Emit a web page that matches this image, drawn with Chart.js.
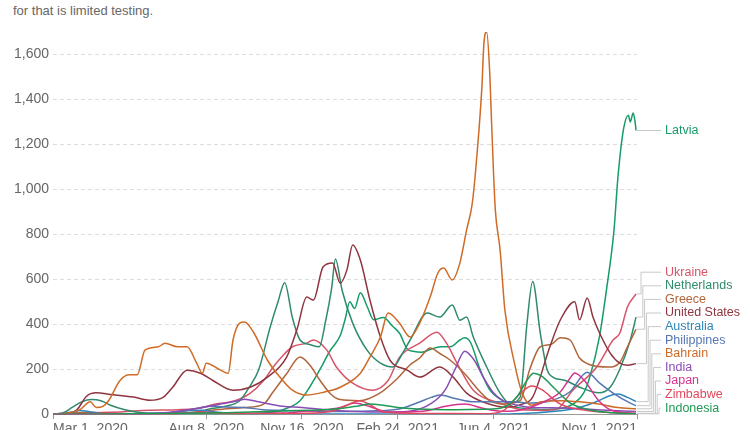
<!DOCTYPE html>
<html>
<head>
<meta charset="utf-8">
<script src="https://cdn.jsdelivr.net/npm/chart.js@4.4.1/dist/chart.umd.min.js"></script>
<style>
  body { margin: 0; background: #fff; overflow: hidden; }
  .subtitle {
    position: absolute; left: 13px; top: 3px;
    font: 13px "Liberation Sans", Arial, sans-serif; color: #666;
  }
  .chart-wrap { position: absolute; left: 0; top: 0; width: 750px; height: 446px; }
</style>
</head>
<body>
<div class="subtitle">for that is limited testing.</div>
<div class="chart-wrap"><canvas id="chart"></canvas></div>
<script>
// Days counted from Mar 1, 2020; values are confirmed cases per million (7-day avg)
const tickDays = [0, 160, 260, 360, 460, 610];
const tickLabels = ['Mar 1, 2020', 'Aug 8, 2020', 'Nov 16, 2020', 'Feb 24, 2021', 'Jun 4, 2021', 'Nov 1, 2021'];

const countries = ['Latvia', 'Ukraine', 'Netherlands', 'Greece', 'United States', 'Australia',
    'Philippines', 'Bahrain', 'India', 'Japan', 'Zimbabwe', 'Indonesia'];
const colors = ['#169c66', '#d6556b', '#2f8a6e', '#b0653a', '#8f3540', '#2f86b8',
    '#5677b0', '#cf6b26', '#8a4cb5', '#d6338f', '#e0485e', '#1f9a55'];

const latvia = [[0,0],[20,1],[60,3],[120,1],[180,1],[220,5],[240,20],[258,60],[268,120],[279,200],
    [289,280],[300,350],[305,420],[310,500],[315,470],[321,540],[328,480],[335,420],[345,430],[355,390],
    [362,360],[370,290],[376,280],[385,275],[395,290],[405,300],[415,300],[425,330],[430,340],[436,320],
    [446,200],[456,110],[470,60],[480,35],[495,25],[510,20],[530,25],[545,50],[555,100],[561,170],
    [571,350],[578,550],[586,820],[590,1050],[596,1270],[601,1330],[603,1300],[606,1340],[608,1300],[609,1262]];
const ukraine = [[0,0],[30,1],[50,8],[70,10],[100,18],[130,20],[150,25],[170,45],[190,60],[205,90],
    [220,150],[230,210],[240,260],[250,300],[265,316],[272,330],[286,285],[296,210],[313,138],[334,107],
    [350,150],[362,254],[383,316],[401,365],[411,316],[422,227],[439,107],[467,49],[490,20],[510,18],
    [525,20],[543,107],[568,210],[585,330],[592,360],[600,477],[609,535]];
const netherlands = [[0,0],[10,5],[20,30],[30,55],[40,65],[50,60],[60,40],[75,20],[90,8],[110,3],
    [130,4],[150,8],[165,25],[180,35],[195,60],[205,120],[215,200],[227,390],[235,500],[242,585],
    [250,430],[258,330],[268,310],[278,300],[285,420],[291,560],[295,690],[302,550],[313,405],[328,285],
    [342,227],[355,210],[365,270],[373,330],[391,450],[404,432],[417,486],[425,418],[432,432],[439,343],
    [453,210],[467,94],[477,49],[488,76],[495,400],[501,590],[509,360],[516,200],[522,165],[535,150],
    [550,120],[570,95],[582,120],[592,200],[603,330],[609,432]];
const greece = [[0,0],[15,3],[30,8],[45,8],[60,3],[90,1],[130,3],[150,10],[170,20],[200,30],
    [220,45],[230,100],[244,180],[258,254],[268,220],[279,150],[290,90],[300,65],[320,60],[340,90],
    [360,160],[373,220],[383,250],[394,295],[404,270],[415,240],[430,180],[446,100],[456,60],[470,45],
    [488,60],[498,200],[509,300],[520,310],[530,340],[540,330],[550,250],[561,220],[580,210],[592,230],
    [600,300],[609,378]];
const unitedStates = [[0,0],[15,2],[25,20],[35,80],[45,95],[60,88],[84,76],[101,62],[115,75],[125,120],
    [140,196],[154,182],[167,150],[188,107],[206,120],[224,165],[244,254],[255,380],[265,521],[272,508],
    [282,655],[292,673],[300,583],[307,642],[313,753],[321,686],[331,508],[342,343],[352,240],[370,196],
    [383,165],[404,210],[418,165],[432,94],[453,49],[474,31],[490,45],[501,76],[519,300],[530,420],
    [545,500],[550,420],[558,517],[564,432],[571,360],[582,272],[592,227],[600,218],[609,225]];
const australia = [[0,0],[20,10],[28,17],[40,10],[55,1],[90,0.5],[120,5],[140,15],[155,18],[170,10],
    [190,3],[220,0.5],[300,1],[400,0.3],[470,0.5],[500,5],[530,15],[550,30],[570,60],[580,80],
    [590,90],[600,75],[609,56]];
const philippines = [[0,0],[30,0.5],[60,1.5],[100,4],[130,10],[150,25],[165,37],[180,32],[200,30],[220,20],
    [240,17],[270,14],[300,12],[330,14],[360,22],[380,50],[395,75],[404,85],[420,70],[440,55],
    [460,55],[480,55],[500,50],[520,60],[540,100],[558,187],[571,138],[585,94],[603,49],[609,38]];
const bahrain = [[0,0],[15,5],[28,20],[39,55],[45,30],[52,35],[58,60],[70,150],[80,175],[88,175],
    [96,285],[110,300],[117,316],[130,300],[140,300],[150,227],[156,182],[160,227],[175,196],[183,182],
    [188,330],[195,405],[200,410],[210,360],[224,240],[237,165],[250,107],[265,85],[283,98],[300,120],
    [321,182],[331,254],[342,343],[350,450],[362,405],[373,343],[383,405],[394,522],[402,628],[408,650],
    [417,597],[425,673],[432,820],[438,940],[443,1163],[448,1457],[450,1644],[453,1700],[456,1533],[458,1310],
    [460,1087],[462,909],[467,730],[472,463],[482,227],[489,107],[496,49],[500,40],[510,55],[530,60],
    [550,55],[570,45],[590,30],[609,24]];
const india = [[0,0],[60,0.5],[90,2],[120,8],[150,25],[175,45],[195,62],[200,67],[215,55],[240,35],
    [260,30],[280,22],[300,15],[330,10],[350,10],[370,12],[396,50],[410,110],[420,200],[430,280],
    [440,240],[450,160],[460,95],[470,60],[485,40],[500,30],[530,28],[560,22],[590,15],[609,12]];
const japan = [[0,0],[30,0.3],[40,3],[60,3],[80,0.3],[120,3],[150,8],[160,9],[180,5],[210,4],
    [240,5],[260,12],[280,18],[300,30],[315,50],[330,35],[350,10],[370,10],[390,15],[410,35],
    [430,45],[450,25],[470,13],[490,20],[510,50],[530,100],[540,160],[545,183],[555,150],[570,60],
    [585,15],[609,4]];
const zimbabwe = [[0,0],[120,1],[150,8],[165,6],[200,2],[250,3],[290,12],[310,45],[320,60],[330,45],
    [345,10],[400,3],[450,2],[470,15],[490,100],[500,125],[510,110],[530,45],[560,15],[600,4],[609,3]];
const indonesia = [[0,0],[60,0.5],[120,3.5],[180,7],[240,14],[300,25],[320,38],[330,45],[345,40],[360,30],
    [390,22],[420,20],[450,22],[470,30],[485,80],[495,150],[502,182],[510,170],[525,110],[540,50],
    [560,20],[585,6],[609,2]];

const seriesData = [latvia, ukraine, netherlands, greece, unitedStates, australia,
    philippines, bahrain, india, japan, zimbabwe, indonesia];

const FONT = '"Liberation Sans", Arial, sans-serif';

// Draw end labels with connector lines on the right side
const endLabels = {
    id: 'endLabels',
    afterDatasetsDraw(chart) {
        const { ctx, scales: { x, y }, chartArea } = chart;
        const gap = 13.6;
        const items = chart.data.datasets.map(ds => {
            const last = ds.data[ds.data.length - 1];
            return { label: ds.label, color: ds.borderColor, ideal: y.getPixelForValue(last.y), endX: x.getPixelForValue(last.x) };
        });
        items.sort((a, b) => countries.indexOf(a.label) - countries.indexOf(b.label));
        // push labels up from the bottom so they don't overlap
        for (let i = items.length - 1; i >= 0; i--) {
            let pos = Math.min(items[i].ideal, chartArea.bottom - 6);
            if (i < items.length - 1) pos = Math.min(pos, items[i + 1].pos - gap);
            items[i].pos = pos;
        }
        const labelX = chartArea.right + 28;
        ctx.save();
        ctx.lineWidth = 1;
        ctx.strokeStyle = '#c8c8c8';
        let k = 0;
        items.forEach(it => {
            ctx.beginPath();
            if (Math.abs(it.pos - it.ideal) > 0.5) {
                const vx = chartArea.right + 4 + k * 1.8;
                k++;
                ctx.moveTo(it.endX + 1, it.ideal);
                ctx.lineTo(vx, it.ideal);
                ctx.lineTo(vx, it.pos);
                ctx.lineTo(labelX - 4, it.pos);
            } else {
                ctx.moveTo(it.endX + 1, it.ideal);
                ctx.lineTo(labelX - 4, it.pos);
            }
            ctx.stroke();
            ctx.fillStyle = it.color;
            ctx.font = '12.5px ' + FONT;
            ctx.textBaseline = 'middle';
            ctx.textAlign = 'left';
            ctx.fillText(it.label, labelX, it.pos);
        });
        ctx.restore();
    }
};

const ctx = document.getElementById('chart').getContext('2d');
new Chart(ctx, {
    type: 'line',
    data: {
        datasets: countries.map((name, i) => ({
            label: name,
            data: seriesData[i].map(([d, v]) => ({ x: d, y: v })),
            borderColor: colors[i],
            backgroundColor: colors[i],
            borderWidth: 1.5,
            pointRadius: 0,
            cubicInterpolationMode: 'monotone',
            fill: false
        })).reverse()
    },
    options: {
        responsive: true,
        maintainAspectRatio: false,
        animation: false,
        layout: { padding: { top: 32, right: 113, left: 10, bottom: 6 } },
        plugins: {
            legend: { display: false },
            tooltip: { enabled: false }
        },
        scales: {
            x: {
                type: 'linear',
                min: 0,
                max: 610,
                afterBuildTicks: axis => { axis.ticks = tickDays.map(v => ({ value: v })); },
                ticks: {
                    align: 'inner',
                    maxRotation: 0,
                    autoSkip: false,
                    padding: 2,
                    color: '#666',
                    font: { family: FONT, size: 14 },
                    callback: (v) => tickLabels[tickDays.indexOf(v)]
                },
                grid: { drawOnChartArea: false, drawTicks: true, tickLength: 5, color: '#999' },
                border: { display: true, color: '#999' }
            },
            y: {
                min: 0,
                max: 1700,
                ticks: {
                    stepSize: 200,
                    includeBounds: false,
                    padding: 4,
                    color: '#666',
                    font: { family: FONT, size: 14 },
                    callback: v => v.toLocaleString('en-US')
                },
                grid: {
                    drawTicks: false,
                    color: c => (c.tick && c.tick.value === 0) ? 'rgba(0,0,0,0)' : '#dddddd'
                },
                border: { display: false, dash: [4, 3] }
            }
        }
    },
    plugins: [endLabels]
});
</script>
</body>
</html>
